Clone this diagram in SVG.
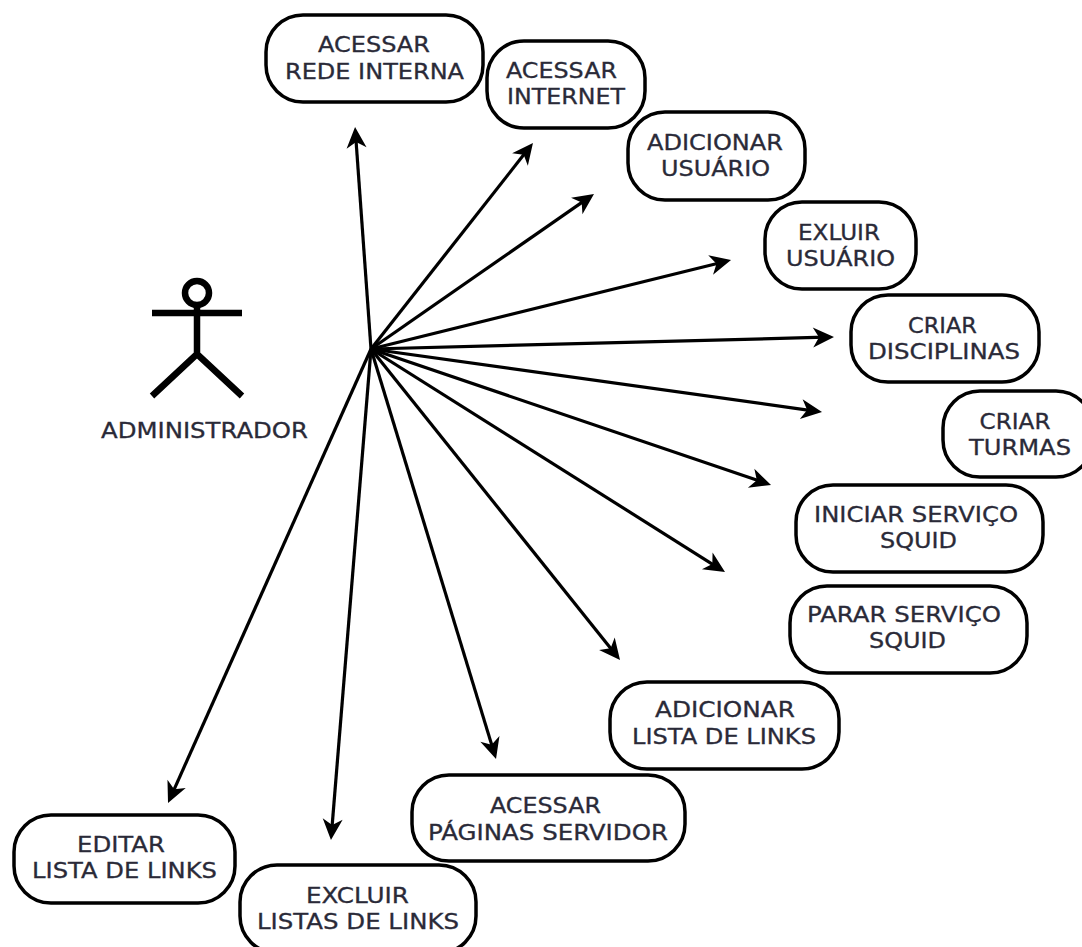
<svg xmlns="http://www.w3.org/2000/svg" width="1082" height="947" viewBox="0 0 1082 947">
<style>
.n rect{fill:#fff;stroke:#000;stroke-width:3.5}
text{font-family:"DejaVu Sans",sans-serif;font-size:21.5px;fill:#2a2a38;stroke:#2a2a38;stroke-width:.3;text-anchor:middle}
#connectors line{stroke:#000;stroke-width:3.2;marker-end:url(#a)}
#actor *{stroke:#000;stroke-width:6.500;fill:none}
</style>
<defs><marker id="a" markerUnits="userSpaceOnUse" markerWidth="22" markerHeight="20" refX="12" refY="10" orient="auto" overflow="visible"><path d="M0,0 L21,10 L0,20 L6,10 Z" fill="#000"/></marker></defs>
<rect width="1082" height="947" fill="#fff"/>
<g id="administrador"><g id="actor"><circle cx="197" cy="293" r="12"/><path d="M197 305V354M152 313H242M152 396L197 354L242 396"/></g><text x="204.500" y="438" textLength="207" lengthAdjust="spacingAndGlyphs">ADMINISTRADOR</text></g>
<g id="connectors">
<line x1="371" y1="349" x2="355.700" y2="136"/>
<line x1="371" y1="349" x2="527.400" y2="150.100"/>
<line x1="371" y1="349" x2="586.600" y2="199.100"/>
<line x1="371" y1="349" x2="722.300" y2="262.200"/>
<line x1="371" y1="349" x2="825" y2="337.200"/>
<line x1="371" y1="349" x2="813.100" y2="410.800"/>
<line x1="371" y1="349" x2="762.500" y2="482.100"/>
<line x1="371" y1="349" x2="717.400" y2="567.300"/>
<line x1="371" y1="349" x2="614.400" y2="653"/>
<line x1="371" y1="349" x2="493.400" y2="750.400"/>
<line x1="371" y1="349" x2="331.700" y2="831"/>
<line x1="371" y1="349" x2="171.700" y2="794.800"/>
</g>
<g id="n1" class="n"><rect x="266" y="15" width="217" height="87" rx="37"/><text x="374" y="52" textLength="112" lengthAdjust="spacingAndGlyphs">ACESSAR</text><text x="374.500" y="79" textLength="179" lengthAdjust="spacingAndGlyphs">REDE INTERNA</text></g>
<g id="n2" class="n"><rect x="487" y="41" width="158" height="87" rx="37"/><text x="561.500" y="78" textLength="111" lengthAdjust="spacingAndGlyphs">ACESSAR</text><text x="566" y="104" textLength="118" lengthAdjust="spacingAndGlyphs">INTERNET</text></g>
<g id="n3" class="n"><rect x="628" y="112" width="177" height="88" rx="37"/><text x="715" y="150" textLength="136" lengthAdjust="spacingAndGlyphs">ADICIONAR</text><text x="715.500" y="176" textLength="109" lengthAdjust="spacingAndGlyphs">USUÁRIO</text></g>
<g id="n4" class="n"><rect x="765" y="202" width="151" height="87" rx="37"/><text x="839" y="240" textLength="82" lengthAdjust="spacingAndGlyphs">EXLUIR</text><text x="840.500" y="266" textLength="109" lengthAdjust="spacingAndGlyphs">USUÁRIO</text></g>
<g id="n5" class="n"><rect x="851" y="295" width="188" height="87" rx="37"/><text x="942.500" y="333" textLength="69" lengthAdjust="spacingAndGlyphs">CRIAR</text><text x="944" y="359" textLength="152" lengthAdjust="spacingAndGlyphs">DISCIPLINAS</text></g>
<g id="n6" class="n"><rect x="943" y="391" width="150" height="86" rx="37"/><text x="1015" y="429" textLength="71" lengthAdjust="spacingAndGlyphs">CRIAR</text><text x="1020" y="455" textLength="102" lengthAdjust="spacingAndGlyphs">TURMAS</text></g>
<g id="n7" class="n"><rect x="796" y="485" width="247" height="87" rx="37"/><text x="916" y="522" textLength="204" lengthAdjust="spacingAndGlyphs">INICIAR SERVIÇO</text><text x="918.500" y="548" textLength="77" lengthAdjust="spacingAndGlyphs">SQUID</text></g>
<g id="n8" class="n"><rect x="790" y="586" width="237" height="87" rx="37"/><text x="904" y="622" textLength="194" lengthAdjust="spacingAndGlyphs">PARAR SERVIÇO</text><text x="907.500" y="648" textLength="77" lengthAdjust="spacingAndGlyphs">SQUID</text></g>
<g id="n9" class="n"><rect x="610" y="682" width="229" height="87" rx="37"/><text x="725" y="717" textLength="140" lengthAdjust="spacingAndGlyphs">ADICIONAR</text><text x="724" y="744" textLength="184" lengthAdjust="spacingAndGlyphs">LISTA DE LINKS</text></g>
<g id="n10" class="n"><rect x="412" y="775" width="273" height="86" rx="37"/><text x="545.500" y="813" textLength="111" lengthAdjust="spacingAndGlyphs">ACESSAR</text><text x="548" y="840" textLength="240" lengthAdjust="spacingAndGlyphs">PÁGINAS SERVIDOR</text></g>
<g id="n11" class="n"><rect x="14" y="815" width="221" height="88" rx="37"/><text x="121" y="852" textLength="88" lengthAdjust="spacingAndGlyphs">EDITAR</text><text x="124.500" y="878" textLength="185" lengthAdjust="spacingAndGlyphs">LISTA DE LINKS</text></g>
<g id="n12" class="n"><rect x="240" y="865" width="236" height="88" rx="37"/><text x="357.500" y="903" textLength="103" lengthAdjust="spacingAndGlyphs">EXCLUIR</text><text x="358" y="929" textLength="202" lengthAdjust="spacingAndGlyphs">LISTAS DE LINKS</text></g>
</svg>
